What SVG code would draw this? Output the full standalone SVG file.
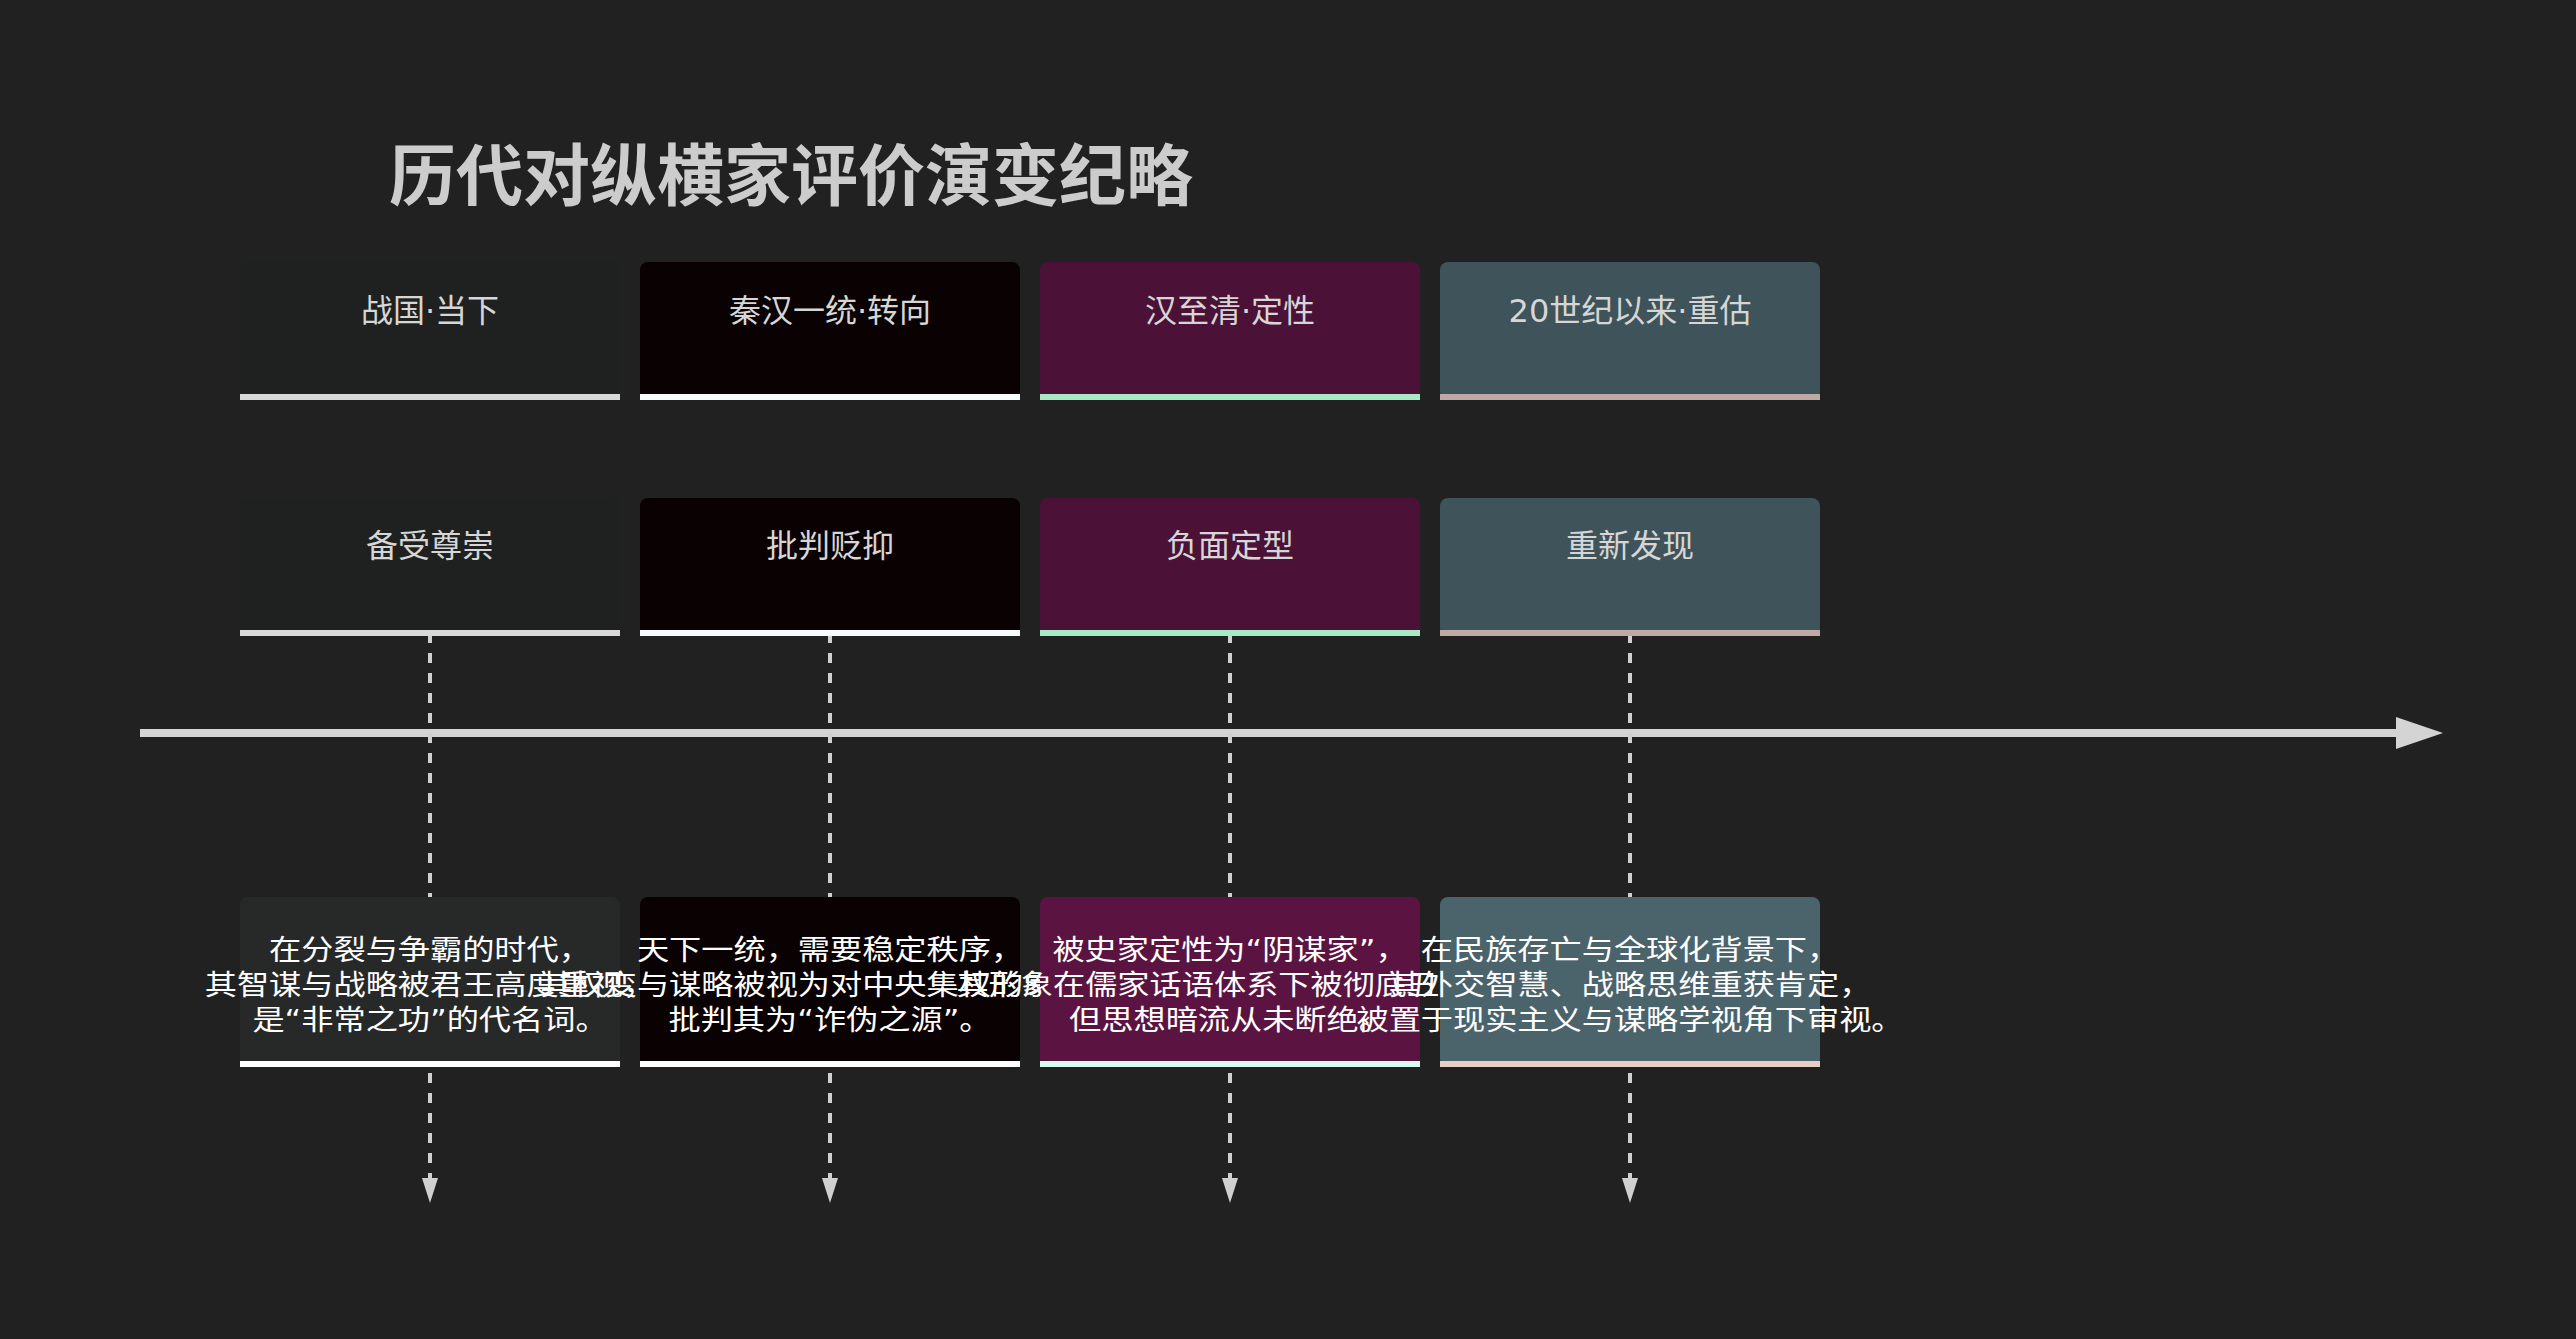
<svg xmlns="http://www.w3.org/2000/svg" width="2576" height="1339" viewBox="0 0 2576 1339">
<defs>
<style>
.f{font-family:"DejaVu Sans","Noto Sans CJK SC",sans-serif}
.title{font-size:67px;font-weight:700;fill:#cccccc;dominant-baseline:central}
.lbl{font-size:32px;fill:#d6d6d6;text-anchor:middle;dominant-baseline:central}
.desc{font-size:28px;fill:#ffffff;text-anchor:middle;dominant-baseline:central}
.dash{stroke:#d0d0d0;stroke-width:4;stroke-dasharray:10 10;fill:none}
.axis{stroke:#d4d4d4;stroke-width:8;fill:none}
.c1{fill:#1f2120}.c2{fill:#0a0102}.c3{fill:#4b1137}.c4{fill:#3f535a}
.d1{fill:#272929}.d2{fill:#0a0102}.d3{fill:#5b1441}.d4{fill:#4b636b}
.b1{fill:#d8d8d8}.b2{fill:#f6fbfb}.b3{fill:#a9e8c4}.b4{fill:#bfa9a5}
.e1{fill:#ffffff}.e2{fill:#ffffff}.e3{fill:#d6fcef}.e4{fill:#e8cec4}
</style>
<marker id="ahBig" markerUnits="userSpaceOnUse" viewBox="0 0 47 32" markerWidth="47" markerHeight="32" refX="0" refY="16" orient="auto">
<path d="M0,0 L47,16 L0,32 z" fill="#d4d4d4"/>
</marker>
<marker id="ah" markerUnits="userSpaceOnUse" viewBox="0 0 25 16" markerWidth="25" markerHeight="16" refX="0" refY="8" orient="auto">
<path d="M0,0 L25,8 L0,16 z" fill="#d0d0d0"/>
</marker>
</defs>
<rect width="2576" height="1339" fill="#212121"/>
<g id="title">
<text class="f title" x="389" y="177">历代对纵横家评价演变纪略</text>
</g>
<g id="connectors">
<line class="axis" x1="140" y1="733" x2="2396" y2="733" marker-end="url(#ahBig)"/>
<line class="dash" x1="430" y1="633" x2="430" y2="1178" marker-end="url(#ah)"/>
<line class="dash" x1="830" y1="633" x2="830" y2="1178" marker-end="url(#ah)"/>
<line class="dash" x1="1230" y1="633" x2="1230" y2="1178" marker-end="url(#ah)"/>
<line class="dash" x1="1630" y1="633" x2="1630" y2="1178" marker-end="url(#ah)"/>
</g>
<g id="period-1"><rect class="c1" x="240" y="262" width="380" height="138" rx="8"/><rect class="b1" x="240" y="394" width="380" height="6"/><text class="f lbl" x="430" y="311">战国·当下</text></g>
<g id="period-2"><rect class="c2" x="640" y="262" width="380" height="138" rx="8"/><rect class="b2" x="640" y="394" width="380" height="6"/><text class="f lbl" x="830" y="311">秦汉一统·转向</text></g>
<g id="period-3"><rect class="c3" x="1040" y="262" width="380" height="138" rx="8"/><rect class="b3" x="1040" y="394" width="380" height="6"/><text class="f lbl" x="1230" y="311">汉至清·定性</text></g>
<g id="period-4"><rect class="c4" x="1440" y="262" width="380" height="138" rx="8"/><rect class="b4" x="1440" y="394" width="380" height="6"/><text class="f lbl" x="1630" y="311">20世纪以来·重估</text></g>
<g id="phase-1"><rect class="c1" x="240" y="498" width="380" height="138" rx="8"/><rect class="b1" x="240" y="630" width="380" height="6"/><text class="f lbl" x="430" y="546">备受尊崇</text></g>
<g id="phase-2"><rect class="c2" x="640" y="498" width="380" height="138" rx="8"/><rect class="b2" x="640" y="630" width="380" height="6"/><text class="f lbl" x="830" y="546">批判贬抑</text></g>
<g id="phase-3"><rect class="c3" x="1040" y="498" width="380" height="138" rx="8"/><rect class="b3" x="1040" y="630" width="380" height="6"/><text class="f lbl" x="1230" y="546">负面定型</text></g>
<g id="phase-4"><rect class="c4" x="1440" y="498" width="380" height="138" rx="8"/><rect class="b4" x="1440" y="630" width="380" height="6"/><text class="f lbl" x="1630" y="546">重新发现</text></g>
<g id="desc-1"><rect class="d1" x="240" y="897" width="380" height="170" rx="8"/><rect class="e1" x="240" y="1061" width="380" height="6"/>
<text class="f desc" transform="translate(430 950) scale(1.15 1)">在分裂与争霸的时代，</text>
<text class="f desc" transform="translate(430 985) scale(1.15 1)">其智谋与战略被君王高度重视，</text>
<text class="f desc" transform="translate(430 1020) scale(1.15 1)">是“非常之功”的代名词。</text></g>
<g id="desc-2"><rect class="d2" x="640" y="897" width="380" height="170" rx="8"/><rect class="e2" x="640" y="1061" width="380" height="6"/>
<text class="f desc" transform="translate(830 950) scale(1.15 1)">天下一统，需要稳定秩序，</text>
<text class="f desc" transform="translate(830 985) scale(1.15 1)">其权变与谋略被视为对中央集权的威胁，</text>
<text class="f desc" transform="translate(830 1020) scale(1.15 1)">批判其为“诈伪之源”。</text></g>
<g id="desc-3"><rect class="d3" x="1040" y="897" width="380" height="170" rx="8"/><rect class="e3" x="1040" y="1061" width="380" height="6"/>
<text class="f desc" transform="translate(1230 950) scale(1.15 1)">被史家定性为“阴谋家”，</text>
<text class="f desc" transform="translate(1230 985) scale(1.15 1)">其形象在儒家话语体系下被彻底丑化，</text>
<text class="f desc" transform="translate(1230 1020) scale(1.15 1)">但思想暗流从未断绝。</text></g>
<g id="desc-4"><rect class="d4" x="1440" y="897" width="380" height="170" rx="8"/><rect class="e4" x="1440" y="1061" width="380" height="6"/>
<text class="f desc" transform="translate(1630 950) scale(1.15 1)">在民族存亡与全球化背景下，</text>
<text class="f desc" transform="translate(1630 985) scale(1.15 1)">其外交智慧、战略思维重获肯定，</text>
<text class="f desc" transform="translate(1630 1020) scale(1.15 1)">被置于现实主义与谋略学视角下审视。</text></g>
</svg>
